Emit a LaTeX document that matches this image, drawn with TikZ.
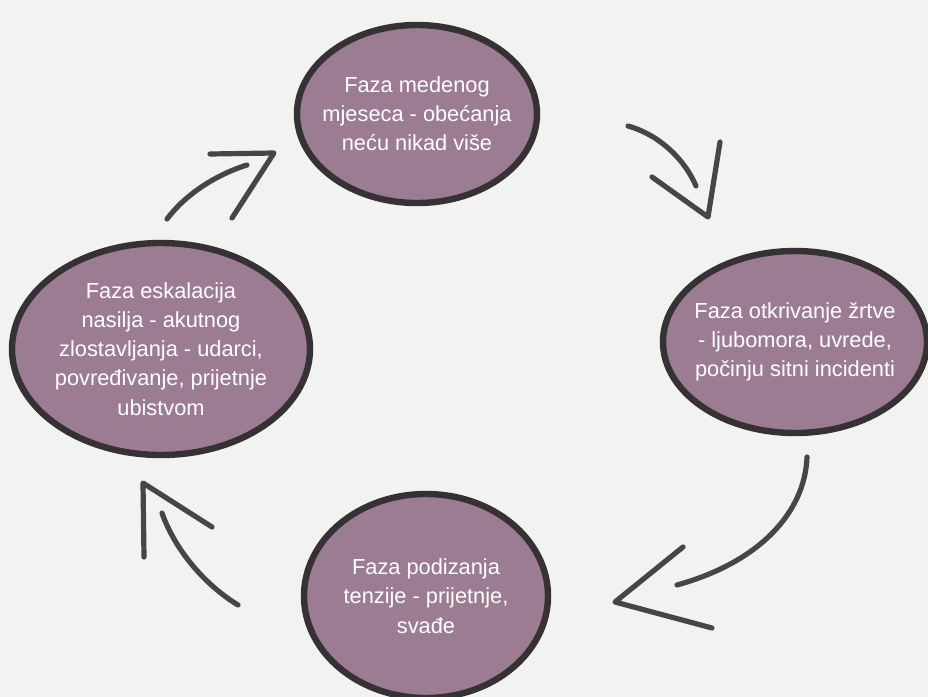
\documentclass[tikz,border=0pt]{standalone}
\usepackage{fontspec}
\setmainfont{Liberation Sans}
\usetikzlibrary{shapes.geometric}
\definecolor{paper}{HTML}{F2F2F1}
\definecolor{mauve}{HTML}{9C7C93}
\definecolor{rim}{HTML}{363134}
\definecolor{pencil}{HTML}{464646}

\begin{document}
\begin{tikzpicture}[x=0.5pt, y=-0.5pt,
    phase/.style={ellipse,draw=rim,fill=mauve,line width=3.2pt,inner sep=-14pt,text=white,align=center,font=\fontsize{10.9}{14.6}\selectfont},
    brush/.style={draw=pencil,line width=2.6pt,line cap=round,line join=round}]
    \fill[paper] (0,0) rectangle (928,697);
    \useasboundingbox (0,0) rectangle (928,697);

    % phases
    \node[phase,minimum width=120pt,minimum height=89pt] (honey) at (417,114) {Faza medenog\\mjeseca - obećanja\\neću nikad više};
    \node[phase,minimum width=132pt,minimum height=91pt] (victim) at (795,342) {Faza otkrivanje žrtve\\- ljubomora, uvrede,\\počinju sitni incidenti};
    \node[phase,minimum width=122pt,minimum height=102pt] (tension) at (426,596) {Faza podizanja\\tenzije - prijetnje,\\svađe};
    \node[phase,minimum width=149pt,minimum height=106pt] (violence) at (161,349) {Faza eskalacija\\nasilja - akutnog\\zlostavljanja - udarci,\\povređivanje, prijetnje\\ubistvom};

    % arrows
    \coordinate (a1s) at (628,126);
    \coordinate (a1e) at (696,186);
    \coordinate (a1l) at (652,177);
    \coordinate (a1t) at (708,217);
    \coordinate (a1r) at (720,142);
    \draw[brush] (a1s) .. controls (660,135) and (685,160) .. (a1e);
    \draw[brush] (a1r) -- (a1t) -- (a1l);

    \coordinate (a2s) at (807,457);
    \coordinate (a2e) at (677,585);
    \coordinate (a2l) at (683,547);
    \coordinate (a2t) at (615,602);
    \coordinate (a2r) at (712,628);
    \draw[brush] (a2s) .. controls (805,512) and (760,562) .. (a2e);
    \draw[brush] (a2l) -- (a2t) -- (a2r);

    \coordinate (a3s) at (238,605);
    \coordinate (a3e) at (162,513);
    \coordinate (a3l) at (144,557);
    \coordinate (a3t) at (143,483);
    \coordinate (a3r) at (212,527);
    \draw[brush] (a3s) .. controls (205,585) and (175,550) .. (a3e);
    \draw[brush] (a3l) -- (a3t) -- (a3r);

    \coordinate (a4s) at (167,219);
    \coordinate (a4e) at (247,165);
    \coordinate (a4l) at (210,154);
    \coordinate (a4t) at (274,153);
    \coordinate (a4r) at (232,218);
    \draw[brush] (a4s) .. controls (185,195) and (215,175) .. (a4e);
    \draw[brush] (a4l) -- (a4t) -- (a4r);
\end{tikzpicture}
\end{document}
